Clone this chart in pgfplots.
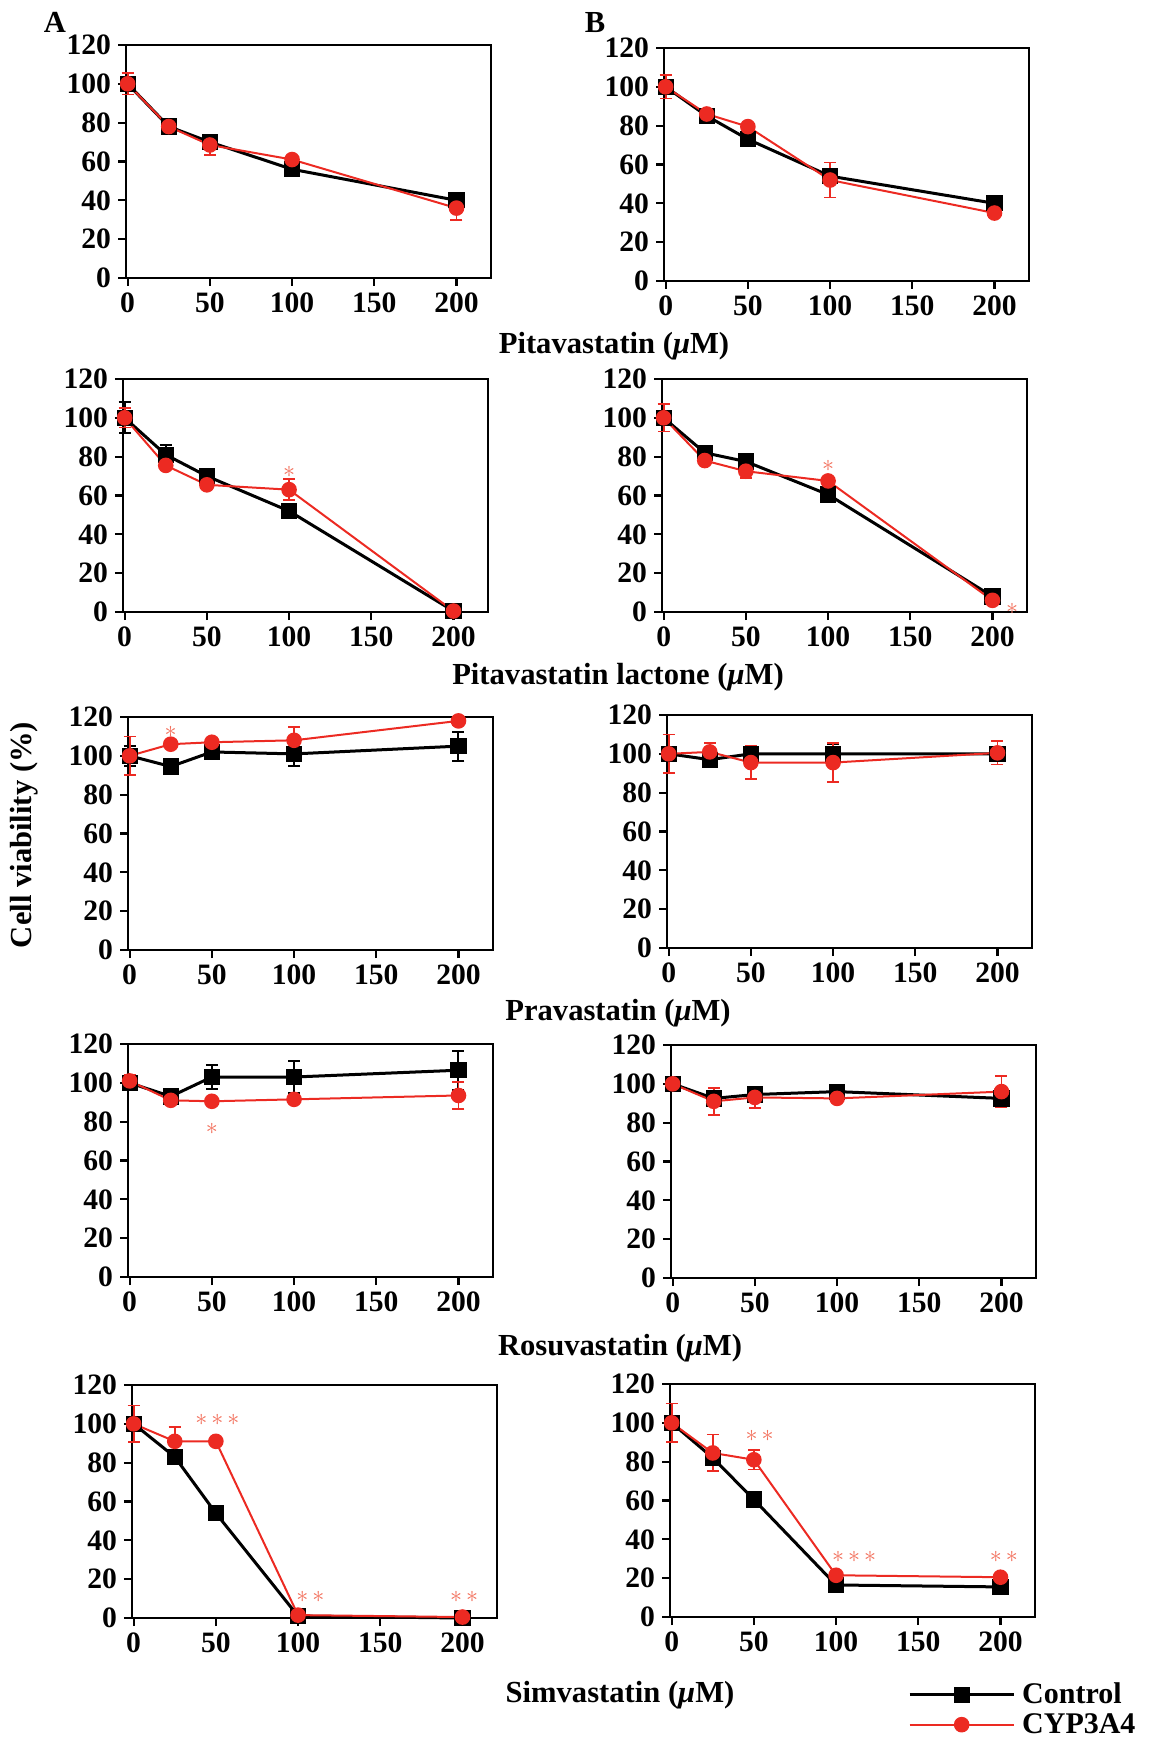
\documentclass[border=0pt]{standalone}
\usepackage{fontspec}
\setmainfont{Liberation Serif}
\usepackage{pgfplots}
\pgfplotsset{compat=1.18}
\definecolor{cypred}{RGB}{236,42,34}
\definecolor{astred}{RGB}{242,110,90}
\newcommand{\st}{\mathord{\ast}}
\pgfplotsset{
  panel/.style={
    scale only axis, width=182.5pt, height=116.5pt,
    xmin=-1, xmax=221, ymin=0, ymax=120,
    xtick={0,50,100,150,200}, ytick={0,20,40,60,80,100,120},
    tick align=outside, xtick pos=left, ytick pos=left,
    axis line style={line width=1.1pt},
    major tick length=4pt,
    every tick/.style={black, line width=1.1pt},
    tick label style={font=\bfseries\fontsize{14.8}{14.8}\selectfont},
    /pgf/number format/assume math mode=true,
    clip=false, anchor=north west,
  },
  ctrl/.style={black, line width=1.5pt, mark=square*, mark size=3.3pt,
    mark options={solid, fill=black, draw=black},
    error bars/.cd, y dir=both, y explicit,
    error bar style={line width=1pt, black},
    error mark options={rotate=90, mark size=3pt, line width=1pt, black}},
  cyp/.style={cypred, line width=1pt, mark=*, mark size=3.4pt,
    mark options={solid, fill=cypred, draw=cypred},
    error bars/.cd, y dir=both, y explicit,
    error bar style={line width=0.9pt, cypred},
    error mark options={rotate=90, mark size=3pt, line width=0.9pt, cypred}},
}
\newcommand{\sig}[3]{\node[text=astred, font=\fontsize{13}{13}\selectfont, inner sep=0pt] at (axis cs:#1,#2) {$#3$};}
\begin{document}
\begin{tikzpicture}
\useasboundingbox (0,0) rectangle (574pt,-869pt);

% Row 1
\begin{axis}[panel, at={(63pt,-22.5pt)}]
\addplot[ctrl] coordinates {(0,100)+-(0,2) (25,78)+-(0,3) (50,70)+-(0,2) (100,56)+-(0,2) (200,40)+-(0,2)};
\addplot[cyp] coordinates {(0,100)+-(0,5.5) (25,78)+-(0,3) (50,68.5)+-(0,5) (100,61)+-(0,2) (200,36)+-(0,6)};
\end{axis}
\begin{axis}[panel, at={(332pt,-24pt)}]
\addplot[ctrl] coordinates {(0,100)+-(0,2) (25,85)+-(0,3) (50,73)+-(0,2) (100,54)+-(0,2) (200,40)+-(0,2)};
\addplot[cyp] coordinates {(0,100)+-(0,6) (25,86)+-(0,2) (50,79.5)+-(0,2) (100,52)+-(0,9) (200,35)+-(0,2)};
\end{axis}

% Row 2
\begin{axis}[panel, at={(61.5pt,-189.5pt)}]
\addplot[ctrl] coordinates {(0,100)+-(0,8) (25,81)+-(0,5) (50,70)+-(0,2) (100,52)+-(0,2) (200,0.5)+-(0,1)};
\addplot[cyp] coordinates {(0,100)+-(0,5) (25,75.5)+-(0,2) (50,65.5)+-(0,2) (100,63)+-(0,5.5) (200,0.5)+-(0,1)};
\sig{100}{72}{\st}
\end{axis}
\begin{axis}[panel, at={(331pt,-189.5pt)}]
\addplot[ctrl] coordinates {(0,100)+-(0,2) (25,82)+-(0,2) (50,77.5)+-(0,2) (100,60.5)+-(0,2) (200,8)+-(0,1.5)};
\addplot[cyp] coordinates {(0,100)+-(0,7) (25,78)+-(0,2) (50,72.5)+-(0,3.5) (100,67.5)+-(0,2) (200,6)+-(0,1)};
\sig{100}{75}{\st}
\sig{212}{1.5}{\st}
\end{axis}

% Row 3
\begin{axis}[panel, at={(64pt,-358.5pt)}]
\addplot[ctrl] coordinates {(0,100)+-(0,5) (25,94.5)+-(0,2) (50,102)+-(0,2) (100,101)+-(0,6) (200,105)+-(0,7.5)};
\addplot[cyp] coordinates {(0,100)+-(0,10) (25,106)+-(0,2) (50,107)+-(0,2) (100,108)+-(0,7) (200,118)+-(0,2)};
\sig{25}{112.5}{\st}
\end{axis}
\begin{axis}[panel, at={(333.5pt,-357.5pt)}]
\addplot[ctrl] coordinates {(0,100)+-(0,3) (25,97)+-(0,2) (50,100)+-(0,4) (100,100)+-(0,5) (200,100)+-(0,3)};
\addplot[cyp] coordinates {(0,100)+-(0,10) (25,101)+-(0,4.5) (50,95.5)+-(0,8.5) (100,95.5)+-(0,10) (200,100.5)+-(0,6)};
\end{axis}

% Row 4
\begin{axis}[panel, at={(64pt,-522pt)}]
\addplot[ctrl] coordinates {(0,100)+-(0,3) (25,93)+-(0,2) (50,103)+-(0,6) (100,103)+-(0,8) (200,106.5)+-(0,10)};
\addplot[cyp] coordinates {(0,101)+-(0,3) (25,91)+-(0,2) (50,90.5)+-(0,2) (100,91.5)+-(0,2) (200,93.5)+-(0,7)};
\sig{50}{76.5}{\st}
\end{axis}
\begin{axis}[panel, at={(335.5pt,-522.5pt)}]
\addplot[ctrl] coordinates {(0,100)+-(0,1.5) (25,92.5)+-(0,4) (50,94.5)+-(0,3) (100,96)+-(0,1.5) (200,92.5)+-(0,3)};
\addplot[cyp] coordinates {(0,100)+-(0,1.5) (25,91)+-(0,7) (50,93)+-(0,5.5) (100,92.5)+-(0,1.5) (200,96)+-(0,8)};
\end{axis}

% Row 5
\begin{axis}[panel, at={(66pt,-692.5pt)}]
\addplot[ctrl] coordinates {(0,100)+-(0,2) (25,83)+-(0,2) (50,54)+-(0,2) (100,1)+-(0,1) (200,0)+-(0,0.5)};
\addplot[cyp] coordinates {(0,100)+-(0,9.5) (25,91)+-(0,7.5) (50,91)+-(0,2) (100,1.5)+-(0,1) (200,0.5)+-(0,0.5)};
\sig{51}{102}{\st\,\st\,\st}
\sig{107.5}{11}{\st\,\st}
\sig{201}{11}{\st\,\st}
\end{axis}
\begin{axis}[panel, at={(335pt,-692pt)},
  legend image code/.code={\draw[mark repeat=2,mark phase=2,#1] plot coordinates {(0pt,0pt)(26pt,0pt)(52pt,0pt)};},
  legend style={draw=none, fill=none, at={(0.635,-0.25)}, anchor=north west,
    font=\bfseries\fontsize{15}{15}\selectfont, row sep=0pt,
    nodes={inner sep=1pt, inner xsep=3.5pt, text height=11pt, text depth=2pt}},
  legend cell align=left]
\addplot[ctrl] coordinates {(0,100)+-(0,2) (25,82)+-(0,2) (50,60.5)+-(0,2) (100,16.5)+-(0,1.5) (200,15.5)+-(0,1.5)};
\addplot[cyp] coordinates {(0,100)+-(0,10) (25,84.5)+-(0,9.5) (50,81)+-(0,5) (100,21.5)+-(0,1.5) (200,20.5)+-(0,1.5)};
\sig{53.5}{93.5}{\st\,\st}
\sig{111}{31}{\st\,\st\,\st}
\sig{202}{31}{\st\,\st}
\legend{Control, CYP3A4}
\end{axis}

% Labels
\begin{scope}[every node/.style={font=\bfseries\fontsize{15.3}{15.3}\selectfont}]
\node at (27.5pt,-11pt) {A};
\node at (297.5pt,-11.5pt) {B};
\node at (307pt,-173pt) {Pitavastatin (\textit{μ}M)};
\node at (309pt,-338.5pt) {Pitavastatin lactone (\textit{μ}M)};
\node at (309pt,-506.5pt) {Pravastatin (\textit{μ}M)};
\node at (310pt,-674pt) {Rosuvastatin (\textit{μ}M)};
\node at (310pt,-847.5pt) {Simvastatin (\textit{μ}M)};
\node[rotate=90] at (12pt,-417.5pt) {Cell viability (\%)};
\end{scope}
\end{tikzpicture}
\end{document}
